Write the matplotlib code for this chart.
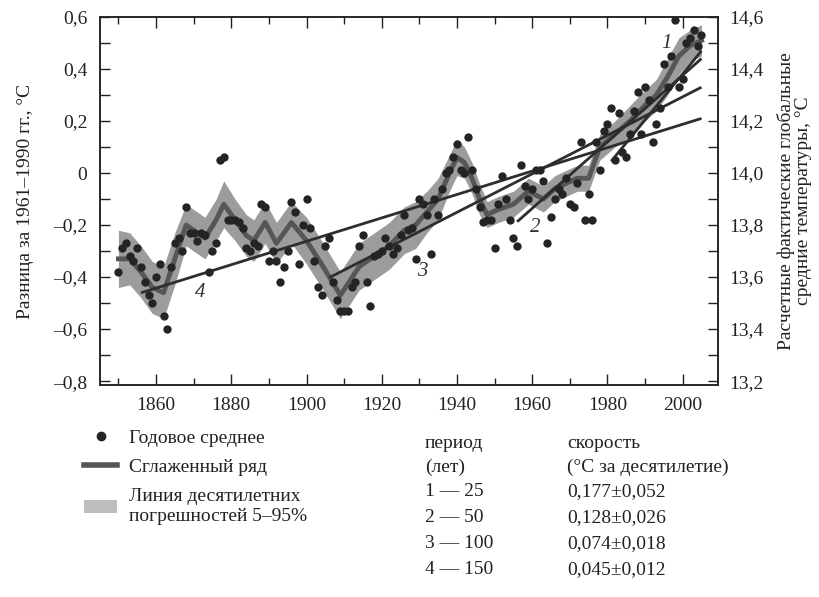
import matplotlib
matplotlib.use("Agg")
import matplotlib.pyplot as plt
from matplotlib.lines import Line2D
from matplotlib.patches import Patch
from matplotlib.ticker import MultipleLocator, FixedLocator

plt.rcParams['font.family'] = ['Liberation Serif', 'DejaVu Serif']

# Annual global mean anomalies, 1850-2005 (°C relative to 1961-1990)
years = list(range(1850, 2006))
annual = [
    -0.38, -0.29, -0.27, -0.32, -0.34, -0.29, -0.36, -0.42, -0.47, -0.50,   # 1850s
    -0.40, -0.35, -0.55, -0.60, -0.36, -0.27, -0.25, -0.30, -0.13, -0.23,   # 1860s
    -0.23, -0.26, -0.23, -0.24, -0.38, -0.30, -0.27, 0.05, 0.06, -0.18,     # 1870s
    -0.18, -0.18, -0.19, -0.21, -0.29, -0.30, -0.27, -0.28, -0.12, -0.13,   # 1880s
    -0.34, -0.30, -0.34, -0.42, -0.36, -0.30, -0.11, -0.15, -0.35, -0.20,   # 1890s
    -0.10, -0.21, -0.34, -0.44, -0.47, -0.28, -0.25, -0.42, -0.49, -0.53,   # 1900s
    -0.53, -0.53, -0.44, -0.42, -0.28, -0.24, -0.42, -0.51, -0.32, -0.31,   # 1910s
    -0.30, -0.25, -0.28, -0.31, -0.29, -0.24, -0.16, -0.22, -0.21, -0.33,   # 1920s
    -0.10, -0.12, -0.16, -0.31, -0.10, -0.16, -0.06, 0.00, 0.01, 0.06,      # 1930s
    0.11, 0.01, 0.00, 0.14, 0.01, -0.06, -0.13, -0.19, -0.18, -0.18,        # 1940s
    -0.29, -0.12, -0.01, -0.10, -0.18, -0.25, -0.28, 0.03, -0.05, -0.10,    # 1950s
    -0.06, 0.01, 0.01, -0.03, -0.27, -0.17, -0.10, -0.06, -0.08, -0.02,     # 1960s
    -0.12, -0.13, -0.04, 0.12, -0.18, -0.08, -0.18, 0.12, 0.01, 0.16,       # 1970s
    0.19, 0.25, 0.05, 0.23, 0.08, 0.06, 0.15, 0.24, 0.31, 0.15,             # 1980s
    0.33, 0.28, 0.12, 0.19, 0.25, 0.42, 0.33, 0.45, 0.59, 0.33,             # 1990s
    0.36, 0.50, 0.52, 0.55, 0.49, 0.53,                                     # 2000-2005
]

# Decadal smoothed series and its 5-95% uncertainty half-width
smooth_years = [1850, 1853, 1856, 1859, 1862, 1865, 1868, 1871, 1873, 1876,
                1878, 1881, 1884, 1886, 1889, 1892, 1896, 1900, 1904, 1909,
                1914, 1918, 1922, 1926, 1929, 1932, 1935, 1938, 1940, 1942,
                1944, 1946, 1948, 1951, 1955, 1959, 1963, 1966, 1969, 1972,
                1975, 1978, 1982, 1986, 1990, 1993, 1996, 1999, 2002, 2005]
smooth_vals = [-0.33, -0.33, -0.38, -0.44, -0.46, -0.33, -0.20, -0.23, -0.25, -0.18,
               -0.12, -0.18, -0.24, -0.26, -0.19, -0.27, -0.19, -0.26, -0.35, -0.47,
               -0.36, -0.32, -0.28, -0.22, -0.20, -0.15, -0.10, 0.00, 0.06, 0.04,
               -0.02, -0.10, -0.16, -0.14, -0.12, -0.07, -0.10, -0.06, -0.04, -0.02,
               -0.02, 0.10, 0.15, 0.20, 0.26, 0.30, 0.37, 0.45, 0.49, 0.51]
smooth_err = [0.11, 0.10, 0.10, 0.10, 0.10, 0.10, 0.08, 0.08, 0.08, 0.08,
              0.09, 0.08, 0.08, 0.08, 0.08, 0.08, 0.08, 0.09, 0.09, 0.09,
              0.09, 0.09, 0.09, 0.09, 0.09, 0.08, 0.08, 0.07, 0.07, 0.06,
              0.06, 0.06, 0.05, 0.05, 0.05, 0.05, 0.05, 0.05, 0.05, 0.05,
              0.05, 0.05, 0.05, 0.06, 0.06, 0.06, 0.07, 0.07, 0.06, 0.06]

# Linear trends: label, period length (years), rate (°C per decade) ± error,
# value of the trend line at its final year 2005
trend_ids = ['1', '2', '3', '4']
trend_periods = [25, 50, 100, 150]
trend_rates = [0.177, 0.128, 0.074, 0.045]
trend_errs = [0.052, 0.026, 0.018, 0.012]
trend_end_vals = [0.47, 0.44, 0.33, 0.21]
trend_end_year = 2005

# Positions of the trend-line numbers
label_years = [1995.8, 1960.8, 1930.8, 1871.8]
label_vals = [0.50, -0.21, -0.38, -0.46]

W, H = 819, 597
fig = plt.figure(figsize=(W / 100, H / 100), dpi=100)
ax = fig.add_axes([100 / W, 1 - 385 / H, 618 / W, 368 / H])

band_color = '#9c9c9c'
smooth_color = '#565656'
ink = '#242424'

lo = [v - e for v, e in zip(smooth_vals, smooth_err)]
hi = [v + e for v, e in zip(smooth_vals, smooth_err)]
ax.fill_between(smooth_years, lo, hi, color=band_color, lw=0, zorder=1)
ax.plot(smooth_years, smooth_vals, color=smooth_color, lw=3.5, zorder=2,
        solid_joinstyle='round')
ax.scatter(years, annual, s=36, color=ink, zorder=4, linewidths=0)

for rate, period, end_val in zip(trend_rates, trend_periods, trend_end_vals):
    start = trend_end_year - period + 1
    start_val = end_val - rate / 10 * (trend_end_year - start)
    ax.plot([start, trend_end_year], [start_val, end_val],
            color='#2e2e2e', lw=2.0, zorder=3, solid_capstyle='butt')

for tid, lx, ly in zip(trend_ids, label_years, label_vals):
    ax.text(lx, ly, tid, fontsize=15, style='italic', color='#333333',
            ha='center', va='center', zorder=5)

ax.set_xlim(1845.1, 2009.4)
ax.set_ylim(-0.815, 0.6)

ytick_vals = [0.6, 0.4, 0.2, 0.0, -0.2, -0.4, -0.6, -0.8]
ytick_labels = ['0,6', '0,4', '0,2', '0', '–0,2', '–0,4', '–0,6', '–0,8']
ax.yaxis.set_major_locator(FixedLocator(ytick_vals))
ax.set_yticklabels(ytick_labels)
ax.yaxis.set_minor_locator(MultipleLocator(0.1))

xtick_vals = [1860, 1880, 1900, 1920, 1940, 1960, 1980, 2000]
ax.xaxis.set_major_locator(FixedLocator(xtick_vals))
ax.set_xticklabels([str(v) for v in xtick_vals])
ax.xaxis.set_minor_locator(MultipleLocator(10))

ax.tick_params(which='both', direction='in', top=True, right=False,
               labelsize=14, colors='#222222', width=1.0)
ax.tick_params(which='major', length=8, pad=9)
ax.tick_params(which='minor', length=5)
ax.tick_params(axis='y', which='both', length=7)
for s in ax.spines.values():
    s.set_linewidth(1.1)
    s.set_color('#222222')

ax.set_ylabel('Разница за 1961–1990 гг., °C', fontsize=14, color='#222222',
              labelpad=14)

ax2 = ax.twinx()
ax2.set_ylim(ax.get_ylim()[0] + 14.0, ax.get_ylim()[1] + 14.0)
rtick_vals = [14.6, 14.4, 14.2, 14.0, 13.8, 13.6, 13.4, 13.2]
ax2.yaxis.set_major_locator(FixedLocator(rtick_vals))
ax2.set_yticklabels([f'{v:.1f}'.replace('.', ',') for v in rtick_vals])
ax2.yaxis.set_minor_locator(MultipleLocator(0.1))
ax2.tick_params(which='both', direction='in', labelsize=14, colors='#222222',
                length=7, pad=8, width=1.0)
ax2.set_ylabel('Расчетные фактические глобальные\nсредние температуры, °C',
               fontsize=14, color='#222222', rotation=90, labelpad=10,
               linespacing=1.0)
for s in ax2.spines.values():
    s.set_linewidth(1.1)
    s.set_color('#222222')

# Legend for the chart elements
handles = [
    Line2D([], [], marker='o', ls='none', color=ink, markersize=6),
    Line2D([], [], color=smooth_color, lw=4),
    Patch(facecolor='#bdbdbd', edgecolor='none'),
]
labels = ['Годовое среднее', 'Сглаженный ряд',
          'Линия десятилетних\nпогрешностей 5–95%']
fig.legend(handles, labels, loc='upper left',
           bbox_to_anchor=(84 / W, 1 - 429 / H), frameon=False,
           fontsize=14, handlelength=1.7, handletextpad=0.6,
           labelspacing=0.62, borderaxespad=0, borderpad=0,
           labelcolor='#222222')

# Table of trend rates
def px(x, y):
    return x / W, 1 - y / H

col1_x, col2_x = 425, 567
fig.text(*px(col1_x, 443), 'период', fontsize=14, va='center', color='#222222')
fig.text(*px(col2_x, 443), 'скорость', fontsize=14, va='center', color='#222222')
fig.text(*px(col1_x, 467), '(лет)', fontsize=14, va='center', color='#222222')
fig.text(*px(col2_x, 467), '(°C за десятилетие)', fontsize=14, va='center',
         color='#222222')
row_y = [492, 518, 544, 570]
for tid, period, rate, err, ry in zip(trend_ids, trend_periods, trend_rates,
                                      trend_errs, row_y):
    fig.text(*px(col1_x, ry), f'{tid} — {period}', fontsize=14, va='center',
             color='#222222')
    fig.text(*px(col2_x, ry),
             f'{rate:.3f}±{err:.3f}'.replace('.', ','),
             fontsize=14, va='center', color='#222222')

fig.savefig('out.png', dpi=100)
